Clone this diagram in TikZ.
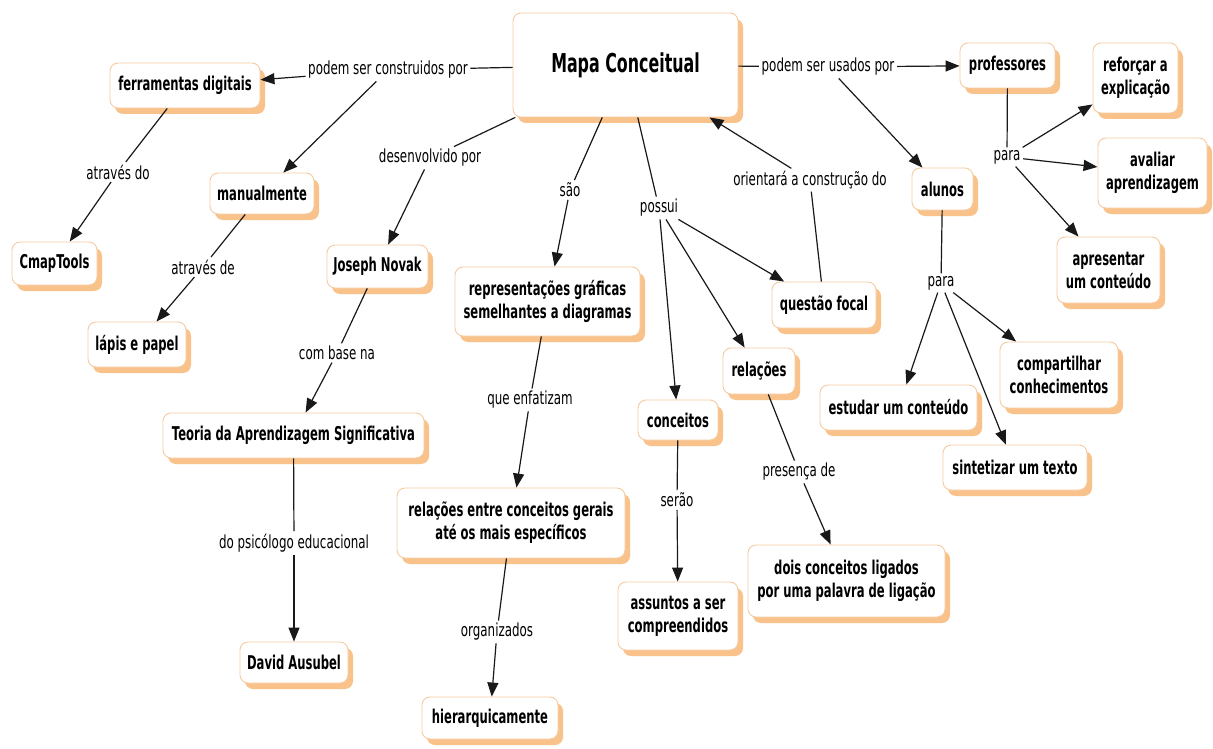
\documentclass[tikz,border=0pt]{standalone}
\usepackage{fontspec}
\usetikzlibrary{arrows.meta,shadows}
% narrow sans faces for concepts and linking phrases
\newfontfamily\cmapsans[FakeStretch=0.61]{DejaVu Sans}
\newfontfamily\linksans[FakeStretch=0.66]{DejaVu Sans}
\definecolor{boxedge}{HTML}{F6CBA0}
\definecolor{boxshade}{HTML}{F9C28A}

\tikzset{
  concept/.style={draw=boxedge, line width=0.9pt, fill=white, rounded corners=8pt,
    align=center, inner sep=0pt,
    font=\cmapsans\bfseries\fontsize{19}{23}\selectfont,
    drop shadow={shadow xshift=5pt, shadow yshift=-6pt, fill=boxshade, opacity=1}},
  bigconcept/.style={concept, font=\cmapsans\bfseries\fontsize{26}{30}\selectfont},
  linklabel/.style={font=\linksans\fontsize{18}{20}\selectfont, inner sep=2.5pt},
  conn/.style={line width=1.2pt, draw=black!90},
  arr/.style={conn, -{Triangle[length=14pt,width=11pt]}},
}

\begin{document}
\begin{tikzpicture}[x=1pt,y=-1pt]
\useasboundingbox[fill=white] (0,0) rectangle (1213,749);

% ---- concepts ----
\node[bigconcept, minimum width=225pt, minimum height=104pt] (mapa) at (625.5,65) {Mapa Conceitual};
\node[concept, minimum width=150pt, minimum height=45pt] (ferr) at (185,85.5) {ferramentas digitais};
\node[concept, minimum width=104pt, minimum height=41pt] (manual) at (262,193.5) {manualmente};
\node[concept, minimum width=85pt, minimum height=43pt] (cmap) at (54.5,263.5) {CmapTools};
\node[concept, minimum width=98pt, minimum height=45pt] (lapis) at (137,344.5) {lápis e papel};
\node[concept, minimum width=101pt, minimum height=43pt] (joseph) at (377.5,266.5) {Joseph Novak};
\node[concept, minimum width=261pt, minimum height=45pt] (teoria) at (293.5,435.5) {Teoria da Aprendizagem Significativa};
\node[concept, minimum width=108pt, minimum height=41pt] (david) at (294,662.5) {David Ausubel};
\node[concept, minimum width=185pt, minimum height=69pt] (repr) at (547.5,301.5) {representações gráficas\\semelhantes a diagramas};
\node[concept, minimum width=228pt, minimum height=70pt] (relent) at (511,523) {relações entre conceitos gerais\\até os mais específicos};
\node[concept, minimum width=136pt, minimum height=42pt] (hier) at (490,718) {hierarquicamente};
\node[concept, minimum width=80pt, minimum height=40pt] (conceitos) at (678,420) {conceitos};
\node[concept, minimum width=120pt, minimum height=68pt] (assuntos) at (678,616) {assuntos a ser\\compreendidos};
\node[concept, minimum width=72pt, minimum height=46pt] (relacoes) at (759,371) {relações};
\node[concept, minimum width=197pt, minimum height=72pt] (dois) at (846.5,581) {dois conceitos ligados\\por uma palavra de ligação};
\node[concept, minimum width=104pt, minimum height=46pt] (questao) at (824,305) {questão focal};
\node[concept, minimum width=157pt, minimum height=45pt] (estudar) at (898.5,407.5) {estudar um conteúdo};
\node[concept, minimum width=118pt, minimum height=66pt] (compart) at (1059,375) {compartilhar\\conhecimentos};
\node[concept, minimum width=144pt, minimum height=45pt] (sintet) at (1015,467.5) {sintetizar um texto};
\node[concept, minimum width=61pt, minimum height=42pt] (alunos) at (942.5,189) {alunos};
\node[concept, minimum width=95pt, minimum height=45pt] (prof) at (1007.5,65.5) {professores};
\node[concept, minimum width=85pt, minimum height=70pt] (reforcar) at (1135.5,78) {reforçar a\\explicação};
\node[concept, minimum width=109pt, minimum height=70pt] (avaliar) at (1152.5,173) {avaliar\\aprendizagem};
\node[concept, minimum width=103pt, minimum height=66pt] (apresentar) at (1108.5,270) {apresentar\\um conteúdo};

% ---- linking phrases ----
\node[linklabel] (lconstr) at (388,70) {podem ser construidos por};
\node[linklabel] (lusados) at (828,67) {podem ser usados por};
\node[linklabel] (ldesenv) at (430,158) {desenvolvido por};
\node[linklabel] (lsao) at (570,190) {são};
\node[linklabel] (lpossui) at (659,208) {possui};
\node[linklabel] (lorient) at (810,180) {orientará a construção do};
\node[linklabel] (latrdo) at (118,172) {através do};
\node[linklabel] (latrde) at (203,267) {através de};
\node[linklabel] (lcombase) at (337,353) {com base na};
\node[linklabel] (lpsic) at (294,543) {do psicólogo educacional};
\node[linklabel] (lenfat) at (530,400) {que enfatizam};
\node[linklabel] (lorgan) at (497,632) {organizados};
\node[linklabel] (lserao) at (677,500) {serão};
\node[linklabel] (lpresenca) at (799,472) {presença de};
\node[linklabel] (lpara1) at (1007,157) {para};
\node[linklabel] (lpara2) at (941,283) {para};

% ---- connections ----
\draw[conn] (mapa) -- (lconstr);
\draw[arr] (lconstr) -- (ferr);
\draw[arr] (lconstr) -- (manual);
\draw[conn] (ferr) -- (latrdo);
\draw[arr] (latrdo) -- (cmap);
\draw[conn] (manual) -- (latrde);
\draw[arr] (latrde) -- (lapis);

\draw[conn] (mapa) -- (ldesenv);
\draw[arr] (ldesenv) -- (joseph);
\draw[conn] (joseph) -- (lcombase);
\draw[arr] (lcombase) -- (teoria);
\draw[conn] (teoria) -- (lpsic);
\draw[arr] (lpsic) -- (david);

\draw[conn] (mapa) -- (lsao);
\draw[arr] (lsao) -- (repr);
\draw[conn] (repr) -- (lenfat);
\draw[arr] (lenfat) -- (relent);
\draw[conn] (relent) -- (lorgan);
\draw[arr] (lorgan) -- (hier);

\draw[conn] (mapa) -- (lpossui);
\draw[arr] (lpossui) -- (conceitos);
\draw[arr] (lpossui) -- (relacoes);
\draw[arr] (lpossui) -- (questao);
\draw[conn] (conceitos) -- (lserao);
\draw[arr] (lserao) -- (assuntos);
\draw[conn] (relacoes) -- (lpresenca);
\draw[arr] (lpresenca) -- (dois);

\draw[conn] (questao) -- (lorient);
\draw[arr] (lorient) -- (mapa);

\draw[conn] (mapa) -- (lusados);
\draw[arr] (lusados) -- (prof);
\draw[arr] (lusados) -- (alunos);
\draw[conn] (prof) -- (lpara1);
\draw[arr] (lpara1) -- (reforcar);
\draw[arr] (lpara1) -- (avaliar);
\draw[arr] (lpara1) -- (apresentar);
\draw[conn] (alunos) -- (lpara2);
\draw[arr] (lpara2) -- (estudar);
\draw[arr] (lpara2) -- (compart);
\draw[arr] (lpara2) -- (sintet);
\end{tikzpicture}
\end{document}
